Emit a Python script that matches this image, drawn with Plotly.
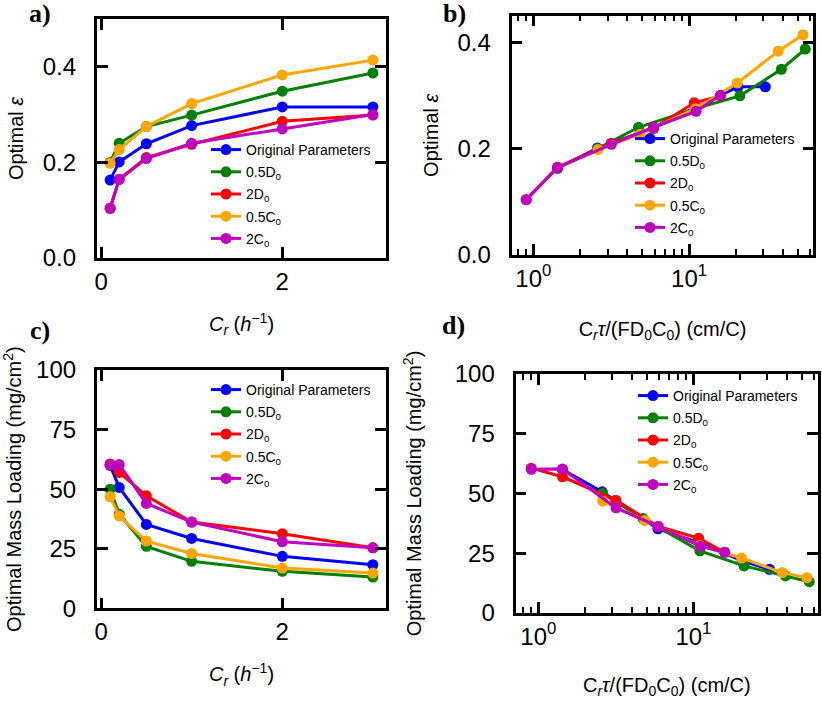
import plotly.graph_objects as go

# ---------------- data ----------------
series_names = ["Original Parameters", "0.5D<sub>0</sub>", "2D<sub>0</sub>", "0.5C<sub>0</sub>", "2C<sub>0</sub>"]
series_colors = ["#0000ff", "#008000", "#ff0000", "#ffa500", "#bf00bf"]

cr = [0.1, 0.2, 0.5, 1, 2, 3]

# optimal porosity (panels a, b)
eps_orig = [0.163, 0.201, 0.239, 0.277, 0.316, 0.316]
eps_d05 = [0.200, 0.240, 0.275, 0.299, 0.349, 0.387]
eps_d2 = [0.104, 0.165, 0.210, 0.238, 0.286, 0.299]
eps_c05 = [0.198, 0.227, 0.275, 0.323, 0.383, 0.414]
eps_c2 = [0.104, 0.164, 0.208, 0.240, 0.270, 0.300]

# dimensionless x (panels b, d)
xn_orig = [1.43, 2.58, 5.9, 11.0, 20.6, 30.9]
xn_d05 = [2.59, 4.74, 11.0, 21.2, 39.2, 55.8]
xn_d2 = [0.90, 1.43, 3.16, 5.93, 10.8, 15.9]
xn_c05 = [2.60, 4.86, 11.0, 20.4, 37.4, 54.0]
xn_c2 = [0.90, 1.43, 3.17, 5.91, 11.1, 15.9]

# optimal mass loading (panels c, d)
ml_orig = [60.0, 50.7, 35.2, 29.3, 21.8, 18.3]
ml_d05 = [50.0, 39.5, 26.0, 19.7, 15.5, 13.1]
ml_d2 = [60.6, 57.0, 47.2, 36.2, 31.3, 25.4]
ml_c05 = [46.8, 38.7, 28.2, 23.0, 16.9, 14.8]
ml_c2 = [60.1, 60.3, 44.0, 36.2, 27.9, 25.4]

# tick values / labels
lin_x_ticks = [0, 2]
eps_ticks = [0, 0.2, 0.4]
ml_ticks = [0, 25, 50, 75, 100]
log_major = [1, 10]
log_major_text = ["10<sup>0</sup>", "10<sup>1</sup>"]

eps_all = [eps_orig, eps_d05, eps_d2, eps_c05, eps_c2]
xn_all = [xn_orig, xn_d05, xn_d2, xn_c05, xn_c2]
ml_all = [ml_orig, ml_d05, ml_d2, ml_c05, ml_c2]

# ---------------- figure ----------------
W, H = 822, 701
FONT = "Liberation Sans, Arial, sans-serif"

fig = go.Figure()

panels = [
    ("x", "y", "legend", lambda i: cr, eps_all),
    ("x2", "y2", "legend2", lambda i: xn_all[i], eps_all),
    ("x3", "y3", "legend3", lambda i: cr, ml_all),
    ("x4", "y4", "legend4", lambda i: xn_all[i], ml_all),
]

for pi, (xa, ya, lg, xf, ys) in enumerate(panels):
    for i, name in enumerate(series_names):
        fig.add_trace(go.Scatter(
            x=xf(i), y=ys[i], mode="lines+markers", name=name,
            xaxis=xa, yaxis=ya, legend=lg, legendgroup=f"g{pi}_{i}",
            line=dict(color=series_colors[i], width=3),
            marker=dict(color=series_colors[i], size=11),
        ))


def px_x(a, b):
    return [a / W, b / W]


def px_y(top, bottom):
    return [1 - bottom / H, 1 - top / H]


def lin_ticks(vals):
    return dict(tickmode="linear", tick0=vals[0], dtick=vals[1] - vals[0])


axis_common = dict(
    showline=True, linewidth=2.5, linecolor="black", mirror="ticks",
    ticks="inside", ticklen=11, tickwidth=2.5, tickcolor="black",
    showgrid=False, zeroline=False,
    tickfont=dict(family=FONT, size=24, color="black"),
    automargin=False,
)
YSUF = "\u00a0\u00a0"
log_common = dict(
    type="log", tickmode="linear", tick0=0, dtick=1,
    labelalias={str(v): t for v, t in zip(log_major, log_major_text)},
    minor=dict(ticks="inside", ticklen=6, tickwidth=1.5, tickcolor="black",
               dtick="D1", showgrid=False),
)

title_font = dict(family=FONT, size=20, color="black")
xt_lin = "<i>C<sub>r</sub></i> (<i>h</i><sup>−1</sup>)"
xt_log = "C<sub><i>r</i></sub><i>τ</i>/(FD<sub>0</sub>C<sub>0</sub>) (cm/C)"
yt_eps = "Optimal <i>ε</i>"
yt_ml = "Optimal Mass Loading (mg/cm<sup>2</sup>)"

b_dom = px_x(511.7, 813.3)
d_dom = px_x(515.7, 818)
b_rng = [-0.139, 1.798]
d_rng = [-0.146, 1.803]

fig.update_layout(
    width=W, height=H, margin=dict(l=0, r=0, t=0, b=0),
    paper_bgcolor="white", plot_bgcolor="white",
    font=dict(family=FONT, color="black"),
    xaxis=dict(axis_common, **lin_ticks(lin_x_ticks), domain=px_x(97, 386), anchor="y",
               range=[-0.045, 3.145],
               title=dict(text=xt_lin, font=title_font, standoff=24)),
    yaxis=dict(axis_common, **lin_ticks(eps_ticks), domain=px_y(19, 258), anchor="x",
               range=[0, 0.5], tickformat=".1f", ticksuffix=YSUF,
               title=dict(text=yt_eps, font=title_font, standoff=14)),
    xaxis2=dict(axis_common, **log_common, domain=b_dom, anchor="y2", range=b_rng,
                title=dict(text=xt_log, font=title_font, standoff=32)),
    yaxis2=dict(axis_common, **lin_ticks(eps_ticks), domain=px_y(15.5, 255), anchor="x2",
                range=[0, 0.45], tickformat=".1f", ticksuffix=YSUF,
                title=dict(text=yt_eps, font=title_font, standoff=14)),
    xaxis3=dict(axis_common, **lin_ticks(lin_x_ticks), domain=px_x(97, 386), anchor="y3",
                range=[-0.045, 3.145],
                title=dict(text=xt_lin, font=title_font, standoff=24)),
    yaxis3=dict(axis_common, **lin_ticks(ml_ticks), domain=px_y(370, 608.3), anchor="x3",
                range=[0, 100], ticksuffix=YSUF,
                title=dict(text=yt_ml, font=title_font, standoff=15)),
    xaxis4=dict(axis_common, **log_common, domain=d_dom, anchor="y4", range=d_rng,
                title=dict(text=xt_log, font=title_font, standoff=30)),
    yaxis4=dict(axis_common, **lin_ticks(ml_ticks), domain=px_y(374, 613), anchor="x4",
                range=[0, 100], ticksuffix=YSUF,
                title=dict(text=yt_ml, font=title_font, standoff=28)),
    showlegend=True,
)

leg_common = dict(bgcolor="rgba(0,0,0,0)", borderwidth=0, xanchor="left", yanchor="top",
                  font=dict(family=FONT, size=14, color="black"), tracegroupgap=1,
                  itemsizing="trace")
fig.update_layout(
    legend=dict(leg_common, x=(249 - 43) / W, y=1 - (147 - 13) / H),
    legend2=dict(leg_common, x=(673 - 43) / W, y=1 - (136 - 13) / H),
    legend3=dict(leg_common, x=(249 - 43) / W, y=1 - (387 - 13) / H),
    legend4=dict(leg_common, x=(676 - 43) / W, y=1 - (393 - 13) / H),
)

labels = [("a)", 40, 13), ("b)", 454, 13), ("c)", 40, 330), ("d)", 453, 325)]
for txt, lx, ly in labels:
    fig.add_annotation(text=f"<b>{txt}</b>", x=lx / W, y=1 - ly / H, xref="paper", yref="paper",
                       showarrow=False, xanchor="center", yanchor="middle",
                       font=dict(family="Liberation Serif, Times New Roman, serif", size=26, color="black"))

fig.write_html("out.html", config={"displayModeBar": False},
               post_script="document.body.style.margin='0';document.body.style.padding='0';")
